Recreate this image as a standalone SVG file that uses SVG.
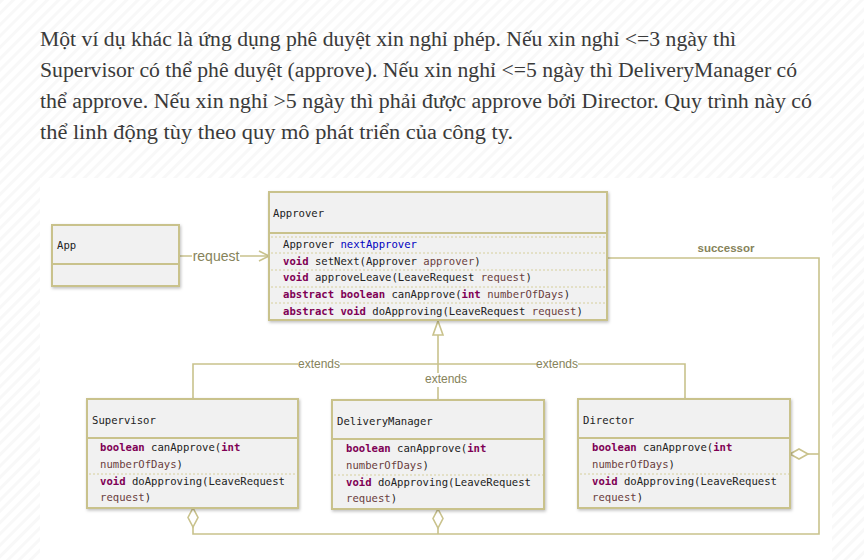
<svg xmlns="http://www.w3.org/2000/svg" width="864" height="560" viewBox="0 0 864 560">
<defs>
<pattern id="stripes" width="8" height="8" patternUnits="userSpaceOnUse" patternTransform="rotate(45)">
<rect width="8" height="8" fill="#ffffff"/>
<rect width="3" height="8" fill="#f8f8f8"/>
</pattern>
<filter id="sh" x="-5%" y="-5%" width="115%" height="120%">
<feDropShadow dx="1" dy="1.5" stdDeviation="1.5" flood-color="#000" flood-opacity="0.25"/>
</filter>
</defs>
<style>
.para{font-family:"Liberation Serif","DejaVu Serif",serif;font-size:20px;fill:#3a3a3a}
.box{fill:#f1f1f1;stroke:#c9c28c;stroke-width:2}
.div{stroke:#c9c28c;stroke-width:2}
.dot{stroke:#d6cf9c;stroke-width:1;stroke-dasharray:2,2}
.code{font-family:"DejaVu Sans Mono","Liberation Mono",monospace;font-size:10.6px;fill:#222}
.kw{fill:#7f0055;font-weight:bold}
.pa{fill:#6a3e3e}
.fd{fill:#0000c0}
.ln{fill:none;stroke:#c9c28c;stroke-width:1.6}
.lbl{font-family:"Liberation Sans","DejaVu Sans",sans-serif;fill:#86835a}
</style>
<rect width="864" height="560" fill="url(#stripes)"/>
<rect x="40" y="178" width="792" height="382" fill="#ffffff"/>
<g id="paragraph">
<text class="para" x="40" y="46" textLength="696" lengthAdjust="spacingAndGlyphs">Một ví dụ khác là ứng dụng phê duyệt xin nghỉ phép. Nếu xin nghỉ &lt;=3 ngày thì</text>
<text class="para" x="40" y="77" textLength="757" lengthAdjust="spacingAndGlyphs">Supervisor có thể phê duyệt (approve). Nếu xin nghỉ &lt;=5 ngày thì DeliveryManager có</text>
<text class="para" x="40" y="108" textLength="772" lengthAdjust="spacingAndGlyphs">thể approve. Nếu xin nghỉ &gt;5 ngày thì phải được approve bởi Director. Quy trình này có</text>
<text class="para" x="40" y="139" textLength="473" lengthAdjust="spacingAndGlyphs">thể linh động tùy theo quy mô phát triển của công ty.</text>
</g>
<g id="connectors">
<path class="ln" d="M179 256 H269"/>
<path class="ln" d="M259 251 L269 256 L259 261"/>
<rect x="192" y="248" width="48" height="16" fill="#ffffff"/>
<text class="lbl" x="216" y="261" font-size="14" text-anchor="middle">request</text>
<path class="ln" d="M607 258 H819 V534 H193 V527"/>
<path class="ln" d="M438 534 V528"/>
<path class="ln" d="M819 454 H808"/>
<path d="M193 508 L198 517.5 L193 527 L188 517.5 Z" fill="#ffffff" stroke="#c9c28c" stroke-width="1.6"/>
<path d="M438 509 L443 518.5 L438 528 L433 518.5 Z" fill="#ffffff" stroke="#c9c28c" stroke-width="1.6"/>
<path d="M790 454 L799 449 L808 454 L799 459 Z" fill="#ffffff" stroke="#c9c28c" stroke-width="1.6"/>
<text class="lbl" x="726" y="252" font-size="11.5" font-weight="bold" text-anchor="middle" fill="#8c8a70">successor</text>
<path class="ln" d="M193 399 V364 H685 V399"/>
<path class="ln" d="M438 335 V400"/>
<path d="M438 321 L443 335 L433 335 Z" fill="#ffffff" stroke="#c9c28c" stroke-width="1.6"/>
<rect x="298" y="357" width="42" height="14" fill="#ffffff"/>
<text class="lbl" x="319" y="368" font-size="12" text-anchor="middle">extends</text>
<rect x="537" y="357" width="41" height="14" fill="#ffffff"/>
<text class="lbl" x="557" y="368" font-size="12" text-anchor="middle">extends</text>
<rect x="425" y="373" width="42" height="14" fill="#ffffff"/>
<text class="lbl" x="446" y="383" font-size="12" text-anchor="middle">extends</text>
</g>
<g id="App">
<rect class="box" x="52" y="225" width="127" height="61" filter="url(#sh)"/>
<line class="div" x1="52" y1="264" x2="179" y2="264"/>
<text class="code" x="57" y="249">App</text>
</g>
<g id="Approver">
<rect class="box" x="269" y="192" width="338" height="128" filter="url(#sh)"/>
<line class="div" x1="269" y1="233" x2="607" y2="233"/>
<text class="code" x="273" y="217">Approver</text>
<line class="dot" x1="271" y1="237" x2="606" y2="237"/>
<line class="dot" x1="271" y1="253" x2="606" y2="253"/>
<line class="dot" x1="271" y1="270" x2="606" y2="270"/>
<line class="dot" x1="271" y1="287" x2="606" y2="287"/>
<line class="dot" x1="271" y1="303" x2="606" y2="303"/>
<text class="code" x="283" y="248">Approver <tspan class="fd">nextApprover</tspan></text>
<text class="code" x="283" y="265"><tspan class="kw">void</tspan> setNext(Approver <tspan class="pa">approver</tspan>)</text>
<text class="code" x="283" y="281"><tspan class="kw">void</tspan> approveLeave(LeaveRequest <tspan class="pa">request</tspan>)</text>
<text class="code" x="283" y="298"><tspan class="kw">abstract boolean</tspan> canApprove(<tspan class="kw">int</tspan> <tspan class="pa">numberOfDays</tspan>)</text>
<text class="code" x="283" y="315"><tspan class="kw">abstract void</tspan> doApproving(LeaveRequest <tspan class="pa">request</tspan>)</text>
</g>
<g id="Supervisor">
<rect class="box" x="87" y="399" width="211" height="109" filter="url(#sh)"/>
<line class="div" x1="87" y1="438" x2="298" y2="438"/>
<text class="code" x="92" y="424">Supervisor</text>
<line class="dot" x1="89" y1="474" x2="297" y2="474"/>
<text class="code" x="100" y="451"><tspan class="kw">boolean</tspan> canApprove(<tspan class="kw">int</tspan></text>
<text class="code pa" x="100" y="468">numberOfDays<tspan fill="#222">)</tspan></text>
<text class="code" x="100" y="485"><tspan class="kw">void</tspan> doApproving(LeaveRequest</text>
<text class="code pa" x="100" y="501">request<tspan fill="#222">)</tspan></text>
</g>
<g id="DeliveryManager">
<rect class="box" x="332" y="400" width="212" height="109" filter="url(#sh)"/>
<line class="div" x1="332" y1="439" x2="544" y2="439"/>
<text class="code" x="337" y="425">DeliveryManager</text>
<line class="dot" x1="334" y1="475" x2="543" y2="475"/>
<text class="code" x="346" y="452"><tspan class="kw">boolean</tspan> canApprove(<tspan class="kw">int</tspan></text>
<text class="code pa" x="346" y="469">numberOfDays<tspan fill="#222">)</tspan></text>
<text class="code" x="346" y="486"><tspan class="kw">void</tspan> doApproving(LeaveRequest</text>
<text class="code pa" x="346" y="502">request<tspan fill="#222">)</tspan></text>
</g>
<g id="Director">
<rect class="box" x="578" y="399" width="212" height="109" filter="url(#sh)"/>
<line class="div" x1="578" y1="438" x2="790" y2="438"/>
<text class="code" x="583" y="424">Director</text>
<line class="dot" x1="580" y1="474" x2="789" y2="474"/>
<text class="code" x="592" y="451"><tspan class="kw">boolean</tspan> canApprove(<tspan class="kw">int</tspan></text>
<text class="code pa" x="592" y="468">numberOfDays<tspan fill="#222">)</tspan></text>
<text class="code" x="592" y="485"><tspan class="kw">void</tspan> doApproving(LeaveRequest</text>
<text class="code pa" x="592" y="501">request<tspan fill="#222">)</tspan></text>
</g>
</svg>
